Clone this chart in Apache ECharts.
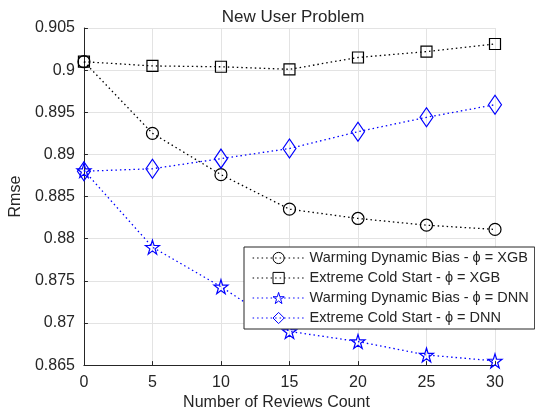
<!DOCTYPE html>
<html lang="en">
<head>
  <meta charset="utf-8">
  <title>New User Problem</title>
  <script src="https://cdn.jsdelivr.net/npm/echarts@6/dist/echarts.min.js"></script>
  <style>
    html, body { margin: 0; padding: 0; background: #fff; }
    #chart { width: 535px; height: 416px; }
  </style>
</head>
<body>
<div id="chart"></div>
<script>
  // review counts on the x axis
  const reviewCounts = [0, 5, 10, 15, 20, 25, 30];

  // rmse per series
  const warmingXgb = [0.9010, 0.8925, 0.8876, 0.8835, 0.8824, 0.8816, 0.8811];
  const coldXgb    = [0.9010, 0.9005, 0.9004, 0.9001, 0.9015, 0.9022, 0.9031];
  const warmingDnn = [0.8881, 0.8790, 0.8743, 0.8690, 0.8678, 0.8662, 0.8655];
  const coldDnn    = [0.8880, 0.8883, 0.8895, 0.8907, 0.8927, 0.8944, 0.8959];

  const seriesNames = [
    'Warming Dynamic Bias - \u03d5 = XGB',
    'Extreme Cold Start - \u03d5 = XGB',
    'Warming Dynamic Bias - \u03d5 = DNN',
    'Extreme Cold Start - \u03d5 = DNN'
  ];
  const seriesColors = ['#000000', '#000000', '#0000ff', '#0000ff'];

  const FONT = "'Liberation Sans', Arial, Helvetica, sans-serif";
  const INK = '#262626';
  const STAR = 'path://M50,0 L61,35 L98,35 L68,57 L79,91 L50,70 L21,91 L32,57 L2,35 L39,35 Z';
  const DOTS = [1.5, 3];

  function pairs(ys) {
    return reviewCounts.map((x, i) => [x, ys[i]]);
  }

  function makeSeries(name, ys, color, symbol, size) {
    return {
      name: name,
      type: 'line',
      data: pairs(ys),
      symbol: symbol,
      symbolSize: size,
      showAllSymbol: true,
      lineStyle: { color: color, width: 1.3, type: DOTS },
      itemStyle: { color: 'rgba(255,255,255,0)', borderColor: color, borderWidth: 1.2 },
      emphasis: { disabled: true },
      animation: false
    };
  }

  // legend entries with thin hollow markers like the plot
  const legendItems = seriesNames.map((name, i) => ({
    name: name,
    itemStyle: { color: 'rgba(255,255,255,0)', borderColor: seriesColors[i], borderWidth: 1 },
    lineStyle: { color: seriesColors[i], width: 1.2, type: DOTS }
  }));

  let chart = echarts.init(document.getElementById('chart'));
  let option = {
    backgroundColor: '#fff',
    title: {
      text: 'New User Problem',
      left: 288,
      top: 4,
      textAlign: 'center',
      textStyle: { fontFamily: FONT, fontSize: 17, fontWeight: 'normal', color: INK }
    },
    grid: { left: 81, right: 40, top: 28, bottom: 41, containLabel: false },
    legend: {
      orient: 'vertical',
      left: 244,
      top: 247,
      padding: [3, 6, 3, 8],
      itemWidth: 52,
      itemHeight: 14,
      itemGap: 4,
      backgroundColor: '#fff',
      borderColor: INK,
      borderWidth: 1,
      borderRadius: 0,
      textStyle: { fontFamily: FONT, fontSize: 14.5, color: INK, lineHeight: 16 },
      data: legendItems
    },
    xAxis: {
      type: 'value',
      min: 0,
      max: 30,
      interval: 5,
      name: 'Number of Reviews Count',
      nameLocation: 'middle',
      nameGap: 24,
      nameTextStyle: { fontFamily: FONT, fontSize: 16, color: INK, padding: [0, 26, 0, 0] },
      axisLine: { lineStyle: { color: INK, width: 1 } },
      axisTick: { inside: true, length: 4, lineStyle: { color: INK } },
      axisLabel: { margin: 9, fontFamily: FONT, fontSize: 16, color: INK },
      splitLine: { show: true, lineStyle: { color: '#e3e3e3', width: 1 } }
    },
    yAxis: {
      type: 'value',
      min: 0.865,
      max: 0.905,
      interval: 0.005,
      name: 'Rmse',
      nameLocation: 'middle',
      nameRotate: 90,
      nameGap: 55,
      nameTextStyle: { fontFamily: FONT, fontSize: 16, color: INK },
      axisLine: { show: true, lineStyle: { color: INK, width: 1 } },
      axisTick: { show: true, inside: true, length: 4, lineStyle: { color: INK } },
      axisLabel: {
        margin: 9, fontFamily: FONT, fontSize: 16, color: INK,
        formatter: v => String(+v.toFixed(3))
      },
      splitLine: { show: true, lineStyle: { color: '#e3e3e3', width: 1 } }
    },
    series: [
      makeSeries(seriesNames[0], warmingXgb, seriesColors[0], 'circle', 12),
      makeSeries(seriesNames[1], coldXgb, seriesColors[1], 'rect', 11),
      makeSeries(seriesNames[2], warmingDnn, seriesColors[2], STAR, 14),
      makeSeries(seriesNames[3], coldDnn, seriesColors[3], 'diamond', [13, 19])
    ]
  };
  chart.setOption(option);
</script>
</body>
</html>
